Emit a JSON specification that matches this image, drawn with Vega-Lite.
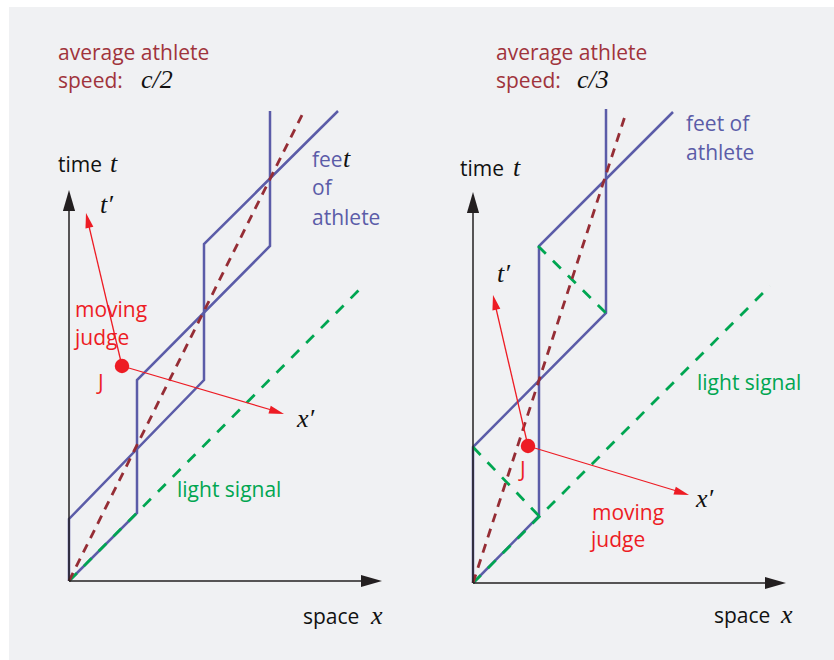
{
  "$schema": "https://vega.github.io/schema/vega-lite/v6.json",
  "width": 834,
  "height": 660,
  "padding": 0,
  "autosize": {"type": "fit", "contains": "padding"},
  "background": "#ffffff",
  "config": {"view": {"stroke": null}, "axis": {"disable": true}},
  "encoding": {
    "x": {"type": "quantitative", "scale": {"domain": [0, 834], "nice": false, "zero": false}, "axis": null},
    "y": {"type": "quantitative", "scale": {"domain": [0, 660], "nice": false, "zero": false, "reverse": true}, "axis": null}
  },
  "layer": [
    {
      "data": {"values": [{"x0": 9, "x1": 834, "y0": 7, "y1": 660}]},
      "mark": {"type": "rect", "color": "#f0f1f3"},
      "encoding": {"x": {"field": "x0", "type": "quantitative"}, "x2": {"field": "x1"}, "y": {"field": "y0", "type": "quantitative"}, "y2": {"field": "y1"}}
    },
    {
      "data": {"values": [
        {"g": "P", "o": 0, "x": 69, "y": 581}, {"g": "P", "o": 1, "x": 137, "y": 513}, {"g": "P", "o": 2, "x": 137, "y": 380}, {"g": "P", "o": 3, "x": 270, "y": 246}, {"g": "P", "o": 4, "x": 270, "y": 111},
        {"g": "Q", "o": 0, "x": 69, "y": 581}, {"g": "Q", "o": 1, "x": 69, "y": 519}, {"g": "Q", "o": 2, "x": 204, "y": 380}, {"g": "Q", "o": 3, "x": 204, "y": 244}, {"g": "Q", "o": 4, "x": 338, "y": 111},
        {"g": "R", "o": 0, "x": 473, "y": 583}, {"g": "R", "o": 1, "x": 473, "y": 447}, {"g": "R", "o": 2, "x": 606, "y": 313}, {"g": "R", "o": 3, "x": 606, "y": 109},
        {"g": "S", "o": 0, "x": 473, "y": 583}, {"g": "S", "o": 1, "x": 539, "y": 516}, {"g": "S", "o": 2, "x": 539, "y": 246}, {"g": "S", "o": 3, "x": 673, "y": 112}
      ]},
      "mark": {"type": "line", "color": "#5b5ca8", "strokeWidth": 2.5},
      "encoding": {"x": {"field": "x", "type": "quantitative"}, "y": {"field": "y", "type": "quantitative"}, "detail": {"field": "g"}, "order": {"field": "o"}}
    },
    {
      "data": {"values": [
        {"g": "L", "o": 0, "x": 69, "y": 581}, {"g": "L", "o": 1, "x": 363, "y": 286},
        {"g": "R", "o": 0, "x": 473, "y": 583}, {"g": "R", "o": 1, "x": 770, "y": 286},
        {"g": "A", "o": 0, "x": 538, "y": 246}, {"g": "A", "o": 1, "x": 606, "y": 313},
        {"g": "B", "o": 0, "x": 473, "y": 447}, {"g": "B", "o": 1, "x": 539, "y": 516}
      ]},
      "mark": {"type": "line", "color": "#00a651", "strokeWidth": 2.8, "strokeDash": [11, 10]},
      "encoding": {"x": {"field": "x", "type": "quantitative"}, "y": {"field": "y", "type": "quantitative"}, "detail": {"field": "g"}, "order": {"field": "o"}}
    },
    {
      "data": {"values": [
        {"g": "L", "o": 0, "x": 69, "y": 581}, {"g": "L", "o": 1, "x": 302, "y": 115},
        {"g": "R", "o": 0, "x": 473, "y": 583}, {"g": "R", "o": 1, "x": 626, "y": 113}
      ]},
      "mark": {"type": "line", "color": "#952d35", "strokeWidth": 2.8, "strokeDash": [9, 7]},
      "encoding": {"x": {"field": "x", "type": "quantitative"}, "y": {"field": "y", "type": "quantitative"}, "detail": {"field": "g"}, "order": {"field": "o"}}
    },
    {
      "data": {"values": [
        {"g": "LV", "o": 0, "x": 69, "y": 581}, {"g": "LV", "o": 1, "x": 69, "y": 205},
        {"g": "LH", "o": 0, "x": 69, "y": 581}, {"g": "LH", "o": 1, "x": 370, "y": 581},
        {"g": "RV", "o": 0, "x": 473, "y": 583}, {"g": "RV", "o": 1, "x": 473, "y": 207},
        {"g": "RH", "o": 0, "x": 473, "y": 583}, {"g": "RH", "o": 1, "x": 774, "y": 583}
      ]},
      "mark": {"type": "line", "color": "#231f20", "strokeWidth": 1.5},
      "encoding": {"x": {"field": "x", "type": "quantitative"}, "y": {"field": "y", "type": "quantitative"}, "detail": {"field": "g"}, "order": {"field": "o"}}
    },
    {
      "data": {"values": [
        {"x": 69, "y": 190, "a": 0}, {"x": 382, "y": 581, "a": 90},
        {"x": 473, "y": 192, "a": 0}, {"x": 786, "y": 583, "a": 90}
      ]},
      "mark": {"type": "point", "shape": "M0,0L-0.29,1L0.29,1Z", "filled": true, "color": "#231f20", "opacity": 1, "size": 1764},
      "encoding": {"x": {"field": "x", "type": "quantitative"}, "y": {"field": "y", "type": "quantitative"}, "angle": {"field": "a", "type": "quantitative", "scale": null}}
    },
    {
      "data": {"values": [
        {"g": "LT", "o": 0, "x": 122, "y": 366}, {"g": "LT", "o": 1, "x": 88, "y": 222},
        {"g": "LX", "o": 0, "x": 122, "y": 366}, {"g": "LX", "o": 1, "x": 275, "y": 411},
        {"g": "RT", "o": 0, "x": 528, "y": 446}, {"g": "RT", "o": 1, "x": 495, "y": 304},
        {"g": "RX", "o": 0, "x": 528, "y": 446}, {"g": "RX", "o": 1, "x": 680, "y": 492}
      ]},
      "mark": {"type": "line", "color": "#ed1c24", "strokeWidth": 1.3},
      "encoding": {"x": {"field": "x", "type": "quantitative"}, "y": {"field": "y", "type": "quantitative"}, "detail": {"field": "g"}, "order": {"field": "o"}}
    },
    {
      "data": {"values": [
        {"x": 86, "y": 213, "a": 346.8}, {"x": 284, "y": 414, "a": 106.5},
        {"x": 493, "y": 295, "a": 347}, {"x": 689, "y": 495, "a": 106.9}
      ]},
      "mark": {"type": "point", "shape": "M0,0L-0.27,1L0.27,1Z", "filled": true, "color": "#ed1c24", "opacity": 1, "size": 900},
      "encoding": {"x": {"field": "x", "type": "quantitative"}, "y": {"field": "y", "type": "quantitative"}, "angle": {"field": "a", "type": "quantitative", "scale": null}}
    },
    {
      "data": {"values": [{"x": 122, "y": 366}, {"x": 528, "y": 446}]},
      "mark": {"type": "circle", "color": "#ed1c24", "opacity": 1, "size": 210},
      "encoding": {"x": {"field": "x", "type": "quantitative"}, "y": {"field": "y", "type": "quantitative"}}
    },
    {
      "data": {"values": [
        {"x": 58, "y": 60, "t": "average athlete"}, {"x": 58, "y": 88, "t": "speed:"},
        {"x": 496, "y": 60, "t": "average athlete"}, {"x": 496, "y": 88, "t": "speed:"}
      ]},
      "mark": {"type": "text", "align": "left", "baseline": "alphabetic", "font": "Open Sans", "fontSize": 21, "color": "#a0343c"},
      "encoding": {"x": {"field": "x", "type": "quantitative"}, "y": {"field": "y", "type": "quantitative"}, "text": {"field": "t"}}
    },
    {
      "data": {"values": [
        {"x": 58, "y": 172, "t": "time"}, {"x": 303, "y": 624, "t": "space"},
        {"x": 460, "y": 176, "t": "time"}, {"x": 714, "y": 623, "t": "space"}
      ]},
      "mark": {"type": "text", "align": "left", "baseline": "alphabetic", "font": "Open Sans", "fontSize": 21, "color": "#111111"},
      "encoding": {"x": {"field": "x", "type": "quantitative"}, "y": {"field": "y", "type": "quantitative"}, "text": {"field": "t"}}
    },
    {
      "data": {"values": [
        {"x": 141, "y": 88, "t": "c/2"}, {"x": 577, "y": 88, "t": "c/3"},
        {"x": 110, "y": 172, "t": "t"}, {"x": 513, "y": 176, "t": "t"},
        {"x": 371, "y": 624, "t": "x"}, {"x": 781, "y": 623, "t": "x"},
        {"x": 100, "y": 213, "t": "t′"}, {"x": 297, "y": 427, "t": "x′"},
        {"x": 497, "y": 282, "t": "t′"}, {"x": 696, "y": 507, "t": "x′"},
        {"x": 343, "y": 167, "t": "t"}
      ]},
      "mark": {"type": "text", "align": "left", "baseline": "alphabetic", "font": "Liberation Serif", "fontStyle": "italic", "fontSize": 26, "color": "#111111"},
      "encoding": {"x": {"field": "x", "type": "quantitative"}, "y": {"field": "y", "type": "quantitative"}, "text": {"field": "t"}}
    },
    {
      "data": {"values": [
        {"x": 312, "y": 167, "t": "fee"}, {"x": 312, "y": 195, "t": "of"}, {"x": 312, "y": 225, "t": "athlete"},
        {"x": 686, "y": 131, "t": "feet of"}, {"x": 686, "y": 160, "t": "athlete"}
      ]},
      "mark": {"type": "text", "align": "left", "baseline": "alphabetic", "font": "Open Sans", "fontSize": 21, "color": "#5b5ca8"},
      "encoding": {"x": {"field": "x", "type": "quantitative"}, "y": {"field": "y", "type": "quantitative"}, "text": {"field": "t"}}
    },
    {
      "data": {"values": [
        {"x": 75, "y": 317, "t": "moving"}, {"x": 75, "y": 345, "t": "judge"}, {"x": 98, "y": 390, "t": "J"},
        {"x": 592, "y": 520, "t": "moving"}, {"x": 591, "y": 547, "t": "judge"}, {"x": 520, "y": 477, "t": "J"}
      ]},
      "mark": {"type": "text", "align": "left", "baseline": "alphabetic", "font": "Open Sans", "fontSize": 21, "color": "#ed1c24"},
      "encoding": {"x": {"field": "x", "type": "quantitative"}, "y": {"field": "y", "type": "quantitative"}, "text": {"field": "t"}}
    },
    {
      "data": {"values": [
        {"x": 177, "y": 497, "t": "light signal"}, {"x": 697, "y": 390, "t": "light signal"}
      ]},
      "mark": {"type": "text", "align": "left", "baseline": "alphabetic", "font": "Open Sans", "fontSize": 21, "color": "#00a651"},
      "encoding": {"x": {"field": "x", "type": "quantitative"}, "y": {"field": "y", "type": "quantitative"}, "text": {"field": "t"}}
    }
  ]
}
